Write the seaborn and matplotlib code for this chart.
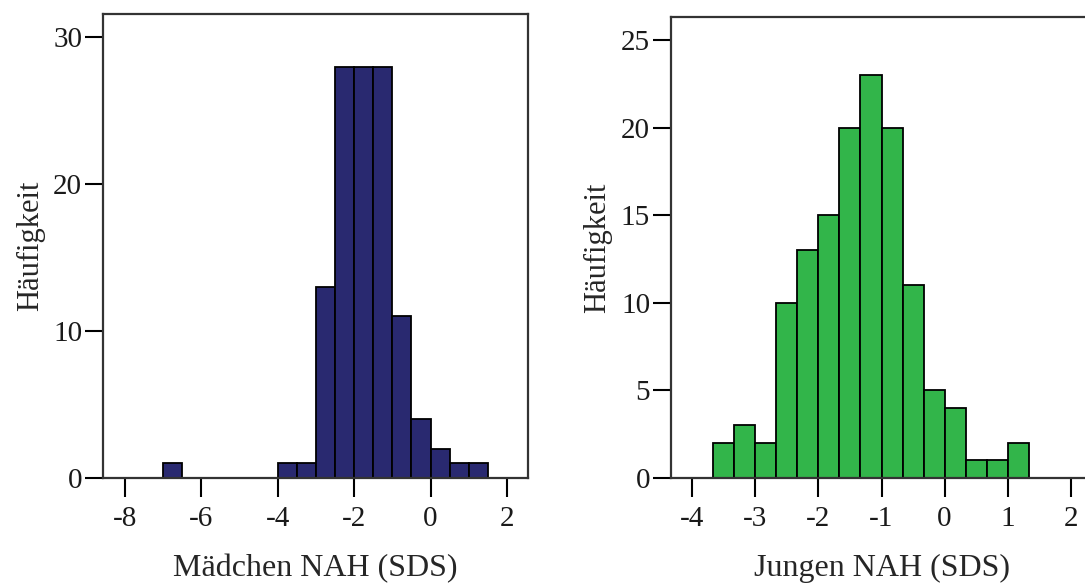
import numpy as np
import pandas as pd
import matplotlib
matplotlib.use("Agg")
import matplotlib.pyplot as plt
import seaborn as sns

# Girls: bin edges (SDS) and counts per bin
girls_edges = [-7.0, -6.5, -6.0, -5.5, -5.0, -4.5, -4.0, -3.5, -3.0, -2.5,
               -2.0, -1.5, -1.0, -0.5, 0.0, 0.5, 1.0, 1.5]
girls_counts = [1, 0, 0, 0, 0, 0, 1, 1, 13, 28, 28, 28, 11, 4, 2, 1, 1]

# Boys: bin edges (SDS, width 1/3) and counts per bin
boys_edges = [-11/3, -10/3, -3.0, -8/3, -7/3, -2.0, -5/3, -4/3, -1.0,
              -2/3, -1/3, 0.0, 1/3, 2/3, 1.0, 4/3]
boys_counts = [2, 3, 2, 10, 13, 15, 20, 23, 20, 11, 5, 4, 1, 1, 2]

girls_xticks = [-8, -6, -4, -2, 0, 2]
girls_yticks = [0, 10, 20, 30]
boys_xticks = [-4, -3, -2, -1, 0, 1, 2]
boys_yticks = [0, 5, 10, 15, 20, 25]

ylabel = "Häufigkeit"
girls_xlabel = "Mädchen NAH (SDS)"
boys_xlabel = "Jungen NAH (SDS)"

sns.set_theme(style="white")
plt.rcParams["font.family"] = ["Liberation Serif", "DejaVu Serif"]

W, H = 1085, 588
fig = plt.figure(figsize=(W / 100, H / 100), dpi=100)


def px_axes(l, t, r, b):
    return fig.add_axes([l / W, 1 - b / H, (r - l) / W, (b - t) / H])


ax1 = px_axes(103, 14, 528, 478)
ax2 = px_axes(671, 17, 1092, 478)

spine_col = "#333333"


def draw(ax, edges, counts, color, xticks, yticks, xlim, ylim, xlabel):
    e = np.asarray(edges, dtype=float)
    df = pd.DataFrame({"sds": (e[:-1] + e[1:]) / 2,
                       "n": np.asarray(counts, dtype=float)})
    sns.histplot(data=df, x="sds", weights="n", bins=list(e), ax=ax,
                 color=color, alpha=1.0, edgecolor="black", linewidth=1.3)
    ax.set_xlim(*xlim)
    ax.set_ylim(*ylim)
    ax.set_xticks(xticks)
    ax.set_xticklabels([str(v) for v in xticks])
    ax.set_yticks(yticks)
    ax.set_yticklabels([str(v) for v in yticks])
    ax.tick_params(axis="x", direction="out", length=14, width=1.5,
                   color="black", pad=6, labelsize=21, labelcolor="#1a1a1a")
    ax.tick_params(axis="y", direction="out", length=13, width=1.5,
                   color="black", pad=2, labelsize=21, labelcolor="#1a1a1a")
    ax.tick_params(bottom=True, left=True)
    for s in ax.spines.values():
        s.set_visible(True)
        s.set_color(spine_col)
        s.set_linewidth(1.6)
    ax.set_xlabel(xlabel, fontsize=23, labelpad=16)
    ax.set_ylabel(ylabel, fontsize=22, labelpad=6)
    ax.grid(False)


draw(ax1, girls_edges, girls_counts, "#292970", girls_xticks, girls_yticks,
     (-8.575, 2.55), (0, 31.6), girls_xlabel)
draw(ax2, boys_edges, boys_counts, "#32b54a", boys_xticks, boys_yticks,
     (-4.34, 2.34), (0, 26.34), boys_xlabel)

fig.savefig("out.png", dpi=100, facecolor="white")
